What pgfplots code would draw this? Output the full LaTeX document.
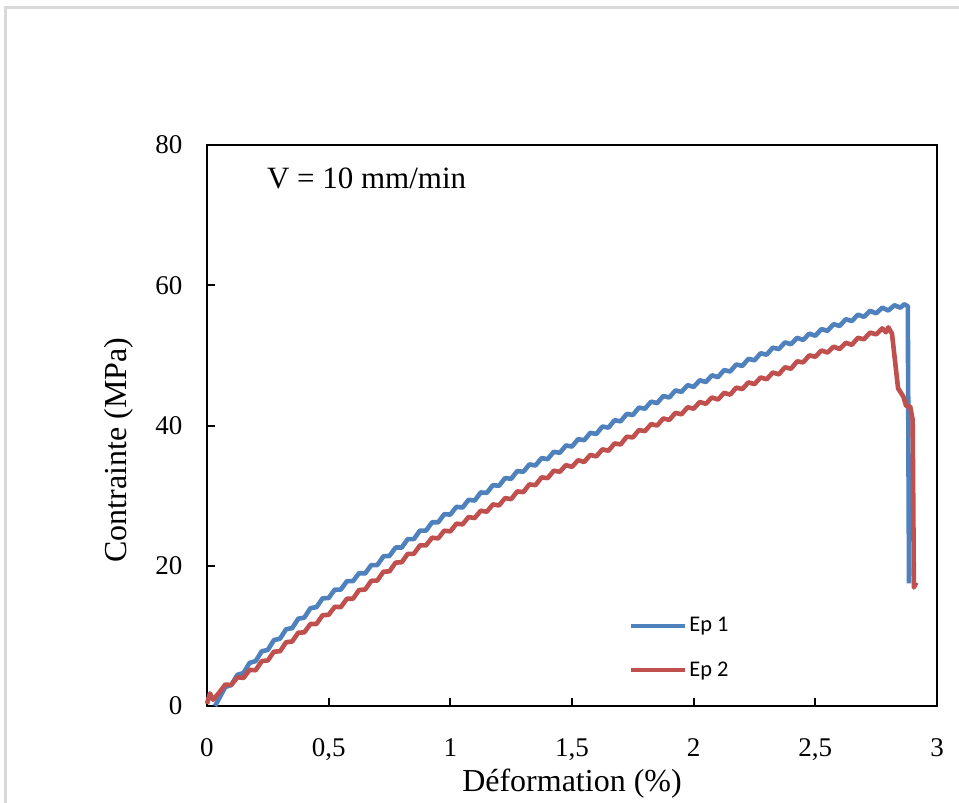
\documentclass[border=0pt]{standalone}
\usepackage{fontspec}
\setmainfont{Liberation Serif}
\newfontfamily\carlito{Carlito}
\usepackage{pgfplots}
\pgfplotsset{compat=1.18}
\definecolor{epblue}{HTML}{4F81BD}
\definecolor{epred}{HTML}{C0504D}
\definecolor{framegray}{HTML}{D9D9D9}
\begin{document}
\begin{tikzpicture}
\useasboundingbox (-103.5pt,-48.5pt) rectangle (376pt,353pt);
\draw[framegray, line width=1.5pt] (-100.85pt,-60pt) -- (-100.85pt,349.2pt) -- (390pt,349.2pt);
\begin{axis}[
  at={(0,0)}, anchor=south west,
  scale only axis, width=365pt, height=280.5pt,
  xmin=0, xmax=3, ymin=0, ymax=80,
  xtick={0,0.5,1,1.5,2,2.5,3},
  xticklabels={0,{0,5},1,{1,5},2,{2,5},3},
  ytick={0,20,40,60,80},
  yticklabels={0,20,40,60,80},
  xtick pos=bottom, ytick pos=left,
  tick align=inside, major tick length=4pt,
  axis line style={black, line width=1pt},
  major tick style={black, line width=1pt},
  ticklabel style={font=\fontsize{13.5}{16}\selectfont},
  xticklabel style={yshift=-12.8pt},
  yticklabel style={xshift=-8.8pt},
  xlabel={Déformation (\%)},
  ylabel={Contrainte (MPa)},
  label style={font=\fontsize{16}{19}\selectfont},
  xlabel style={at={(axis description cs:0.5,-0.139)}, anchor=center},
  ylabel style={at={(axis description cs:-0.1205,0.456)}, anchor=center},
  clip=false,
  legend style={at={(axis description cs:0.578,0.1627)}, anchor=north west,
    draw=none, fill=none, inner sep=0pt, row sep=11.5pt,
    font=\carlito\fontsize{11.2}{13}\selectfont,
    nodes={inner sep=1pt}},
  legend cell align=left,
  legend image code/.code={\draw[#1, line width=2pt] (0pt,0pt) -- (27pt,0pt);},
]
\addplot[epblue, line width=2.3pt, line join=round] coordinates {
(0.033,0.0) (0.05,1.1) (0.075,2.7) (0.10,3.0) (0.125,4.45) (0.15,4.7) (0.175,6.15) (0.20,6.4) (0.225,7.8) (0.25,8.0) (0.275,9.4) (0.30,9.6) (0.325,10.95) (0.35,11.1) (0.375,12.45) (0.40,12.6) (0.425,13.95) (0.45,14.1) (0.475,15.35) (0.50,15.4) (0.525,16.6) (0.55,16.6) (0.575,17.8) (0.60,17.8) (0.625,18.95) (0.65,18.9) (0.675,20.1) (0.70,20.1) (0.725,21.35) (0.75,21.4) (0.775,22.6) (0.80,22.6) (0.825,23.8) (0.85,23.8) (0.875,25.0) (0.90,25.0) (0.925,26.2) (0.95,26.2) (0.975,27.35) (1.00,27.3) (1.025,28.4) (1.05,28.3) (1.075,29.4) (1.10,29.3) (1.125,30.45) (1.15,30.4) (1.175,31.5) (1.20,31.4) (1.225,32.5) (1.25,32.4) (1.275,33.5) (1.30,33.4) (1.325,34.45) (1.35,34.3) (1.375,35.35) (1.40,35.2) (1.425,36.25) (1.45,36.1) (1.475,37.15) (1.50,37.0) (1.525,38.05) (1.55,37.9) (1.575,38.95) (1.60,38.8) (1.625,39.85) (1.65,39.7) (1.675,40.75) (1.70,40.6) (1.725,41.65) (1.75,41.5) (1.775,42.55) (1.80,42.4) (1.825,43.4) (1.85,43.2) (1.875,44.2) (1.90,44.0) (1.925,45.0) (1.95,44.8) (1.975,45.75) (2.00,45.5) (2.025,46.45) (2.05,46.2) (2.075,47.15) (2.10,46.9) (2.125,47.9) (2.15,47.7) (2.175,48.7) (2.20,48.5) (2.225,49.5) (2.25,49.3) (2.275,50.3) (2.30,50.1) (2.325,51.1) (2.35,50.9) (2.375,51.85) (2.40,51.6) (2.425,52.5) (2.45,52.2) (2.475,53.1) (2.50,52.8) (2.525,53.75) (2.55,53.5) (2.575,54.45) (2.60,54.2) (2.625,55.15) (2.65,54.9) (2.675,55.8) (2.70,55.5) (2.725,56.35) (2.75,56.0) (2.775,56.8) (2.80,56.4) (2.825,57.15) (2.85,56.8) (2.865,57.3) (2.88,57.0) (2.885,17.5)
};
\addlegendentry{Ep 1}
\addplot[epred, line width=2.3pt, line join=round] coordinates {
(0,0.3) (0.012,1.8) (0.025,0.9) (0.05,1.9) (0.075,3.05) (0.10,3.0) (0.125,4.1) (0.15,4.0) (0.175,5.15) (0.20,5.1) (0.225,6.4) (0.25,6.5) (0.275,7.75) (0.30,7.8) (0.325,9.1) (0.35,9.2) (0.375,10.45) (0.40,10.5) (0.425,11.7) (0.45,11.7) (0.475,12.95) (0.50,13.0) (0.525,14.15) (0.55,14.1) (0.575,15.3) (0.60,15.3) (0.625,16.55) (0.65,16.6) (0.675,17.85) (0.70,17.9) (0.725,19.15) (0.75,19.2) (0.775,20.45) (0.80,20.5) (0.825,21.7) (0.85,21.7) (0.875,22.9) (0.90,22.9) (0.925,24.0) (0.95,23.9) (0.975,25.0) (1.00,24.9) (1.025,26.0) (1.05,25.9) (1.075,26.95) (1.10,26.8) (1.125,27.85) (1.15,27.7) (1.175,28.75) (1.20,28.6) (1.225,29.65) (1.25,29.5) (1.275,30.6) (1.30,30.5) (1.325,31.6) (1.35,31.5) (1.375,32.6) (1.40,32.5) (1.425,33.55) (1.45,33.4) (1.475,34.35) (1.50,34.1) (1.525,35.05) (1.55,34.8) (1.575,35.8) (1.60,35.6) (1.625,36.6) (1.65,36.4) (1.675,37.45) (1.70,37.3) (1.725,38.4) (1.75,38.3) (1.775,39.35) (1.80,39.2) (1.825,40.2) (1.85,40.0) (1.875,41.0) (1.90,40.8) (1.925,41.8) (1.95,41.6) (1.975,42.6) (2.00,42.4) (2.025,43.35) (2.05,43.1) (2.075,44.0) (2.10,43.7) (2.125,44.65) (2.15,44.4) (2.175,45.4) (2.20,45.2) (2.225,46.15) (2.25,45.9) (2.275,46.85) (2.30,46.6) (2.325,47.55) (2.35,47.3) (2.375,48.3) (2.40,48.1) (2.425,49.15) (2.45,49.0) (2.475,50.0) (2.50,49.8) (2.525,50.7) (2.55,50.4) (2.575,51.25) (2.60,50.9) (2.625,51.8) (2.65,51.5) (2.675,52.5) (2.70,52.3) (2.725,53.25) (2.75,53.0) (2.775,53.85) (2.79,53.3) (2.80,54.0) (2.815,53.1) (2.84,45.3) (2.862,44.1) (2.873,42.8) (2.89,42.7) (2.90,40.8) (2.905,16.9) (2.915,17.6)
};
\addlegendentry{Ep 2}
\node[anchor=base west, inner sep=0pt, font=\fontsize{15.5}{18}\selectfont] at (axis cs:0.245,73.8) {V = 10 mm/min};
\end{axis}
\end{tikzpicture}
\end{document}
